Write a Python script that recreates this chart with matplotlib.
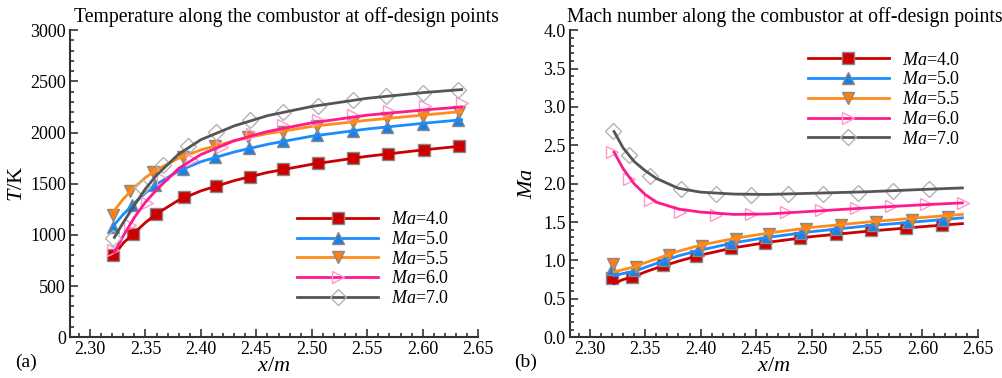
import numpy as np
import matplotlib
matplotlib.use("Agg")
import matplotlib.pyplot as plt
from matplotlib.ticker import MultipleLocator

plt.rcParams['font.family'] = ['Liberation Serif', 'DejaVu Serif']
plt.rcParams['mathtext.fontset'] = 'custom'
plt.rcParams['mathtext.rm'] = 'Liberation Serif'
plt.rcParams['mathtext.it'] = 'Liberation Serif:italic'

labels = ['$Ma$=4.0', '$Ma$=5.0', '$Ma$=5.5', '$Ma$=6.0', '$Ma$=7.0']

# ---- (a) temperature: smooth curves read at fixed x
x_line_a = [2.322, 2.33, 2.34, 2.35, 2.36, 2.38, 2.40, 2.43, 2.46, 2.50, 2.55, 2.60, 2.635]
T_line_4 = [805, 920, 1020, 1120, 1205, 1340, 1430, 1530, 1610, 1690, 1768, 1830, 1868]
T_line_5 = [1100, 1200, 1310, 1410, 1495, 1625, 1715, 1810, 1885, 1965, 2035, 2090, 2125]
T_line_55 = [1240, 1350, 1465, 1560, 1635, 1750, 1830, 1920, 1990, 2060, 2120, 2170, 2205]
T_line_6 = [830, 990, 1170, 1320, 1440, 1650, 1785, 1920, 2010, 2095, 2170, 2220, 2250]
T_line_7 = [975, 1120, 1290, 1450, 1583, 1790, 1930, 2065, 2165, 2255, 2335, 2390, 2420]

# (a) marker positions
xm_a4 = [2.321, 2.3385, 2.3595, 2.385, 2.414, 2.444, 2.474, 2.506, 2.537, 2.569, 2.601, 2.633]
Tm_a4 = [800, 1008, 1205, 1366, 1480, 1570, 1640, 1698, 1747, 1793, 1833, 1866]
xm_a5 = [2.321, 2.3376, 2.3586, 2.384, 2.4127, 2.4433, 2.4737, 2.505, 2.537, 2.568, 2.600, 2.632]
Tm_a5 = [1075, 1290, 1485, 1642, 1762, 1845, 1920, 1974, 2012, 2055, 2083, 2118]
xm_a55 = [2.321, 2.336, 2.357, 2.3836, 2.4127, 2.4427, 2.4737, 2.505, 2.537, 2.568, 2.600, 2.633]
Tm_a55 = [1195, 1427, 1616, 1762, 1866, 1957, 2010, 2065, 2105, 2140, 2165, 2205]
xm_a6 = [2.321, 2.336, 2.351, 2.366, 2.392, 2.419, 2.446, 2.474, 2.506, 2.537, 2.57, 2.602, 2.635]
Tm_a6 = [850, 1100, 1310, 1550, 1730, 1860, 1990, 2072, 2125, 2176, 2212, 2255, 2284]
xm_a7 = [2.321, 2.347, 2.366, 2.3886, 2.414, 2.444, 2.474, 2.506, 2.537, 2.567, 2.600, 2.632]
Tm_a7 = [970, 1470, 1680, 1865, 2006, 2121, 2202, 2257, 2316, 2355, 2387, 2420]

# ---- (b) Mach number
x_line_b = [2.322, 2.33, 2.34, 2.35, 2.36, 2.38, 2.40, 2.43, 2.46, 2.50, 2.55, 2.60, 2.636]
M_line_4 = [0.70, 0.75, 0.79, 0.85, 0.90, 0.99, 1.07, 1.165, 1.235, 1.31, 1.38, 1.44, 1.48]
M_line_5 = [0.80, 0.83, 0.855, 0.91, 0.96, 1.06, 1.135, 1.23, 1.30, 1.375, 1.45, 1.51, 1.555]
M_line_55 = [0.85, 0.88, 0.915, 0.97, 1.02, 1.12, 1.20, 1.285, 1.355, 1.43, 1.50, 1.56, 1.60]
M_line_6 = [2.41, 2.20, 2.00, 1.86, 1.76, 1.67, 1.63, 1.60, 1.605, 1.64, 1.685, 1.725, 1.75]
M_line_7 = [2.68, 2.47, 2.29, 2.17, 2.07, 1.94, 1.89, 1.865, 1.86, 1.875, 1.895, 1.925, 1.945]

xm_b4 = [2.3205, 2.3385, 2.366, 2.3962, 2.4271, 2.4578, 2.4893, 2.522, 2.5533, 2.5854, 2.618]
Mm_b4 = [0.765, 0.786, 0.938, 1.055, 1.164, 1.221, 1.286, 1.351, 1.394, 1.429, 1.468]
xm_b5 = [2.3204, 2.34, 2.367, 2.3976, 2.4277, 2.4593, 2.4908, 2.522, 2.5554, 2.587, 2.6185]
Mm_b5 = [0.882, 0.873, 1.003, 1.134, 1.229, 1.307, 1.359, 1.416, 1.459, 1.503, 1.525]
xm_b55 = [2.321, 2.342, 2.3715, 2.4016, 2.432, 2.462, 2.4953, 2.527, 2.5584, 2.591, 2.623]
Mm_b55 = [0.96, 0.916, 1.068, 1.19, 1.273, 1.351, 1.416, 1.459, 1.503, 1.533, 1.567]
xm_b6 = [2.3204, 2.3355, 2.354, 2.381, 2.4136, 2.4458, 2.4767, 2.5088, 2.540, 2.572, 2.6035, 2.6365]
Mm_b6 = [2.415, 2.067, 1.785, 1.633, 1.590, 1.603, 1.633, 1.655, 1.685, 1.711, 1.741, 1.75]
xm_b7 = [2.321, 2.3355, 2.354, 2.3826, 2.414, 2.4458, 2.4787, 2.510, 2.542, 2.573, 2.606]
Mm_b7 = [2.69, 2.38, 2.10, 1.93, 1.863, 1.85, 1.872, 1.872, 1.885, 1.906, 1.928]

# styles: line colour, marker, face, edge, size
styles = [
    ('#cc0000', 's', '#cc0000', '#888888', 8),
    ('#1a8cff', '^', '#1a7fe6', '#888888', 9),
    ('#ff8c1a', 'v', '#ff7f0e', '#888888', 9),
    ('#ff1a8c', '>', 'none', '#ff99cc', 9),
    ('#555555', 'D', 'none', '#b3b3b3', 8),
]


def draw(ax, xl, lines, marks):
    for (c, m, fc, ec, ms), yl, (xm, ym), lab in zip(styles, lines, marks, labels):
        ax.plot(xm, ym, ls='none', marker=m, mfc=fc, mec=ec, ms=ms, mew=1.0)
        ax.plot(xl, yl, color=c, lw=2)
        # legend proxy
        ax.plot([], [], color=c, lw=2, marker=m, mfc=fc, mec=ec, ms=ms,
                mew=1.0, label=lab)


def style_axes(ax):
    for s in ['top', 'right']:
        ax.spines[s].set_visible(False)
    for s in ['left', 'bottom']:
        ax.spines[s].set_linewidth(1.5)
        ax.spines[s].set_color('#333333')
    ax.set_xlim(2.282, 2.65)
    ax.xaxis.set_major_locator(MultipleLocator(0.05))
    ax.xaxis.set_minor_locator(MultipleLocator(0.01))
    ax.xaxis.set_major_formatter(matplotlib.ticker.FormatStrFormatter('%.2f'))
    ax.tick_params(which='both', direction='in', labelsize=13, width=1.2,
                   color='#333333', pad=3)
    ax.tick_params(which='major', length=6)
    ax.tick_params(which='minor', length=3)


fig = plt.figure(figsize=(10.03, 3.78), dpi=100)
ax1 = fig.add_axes([0.0698, 0.108, 0.407, 0.812])
ax2 = fig.add_axes([0.568, 0.108, 0.407, 0.812])

draw(ax1, x_line_a, [T_line_4, T_line_5, T_line_55, T_line_6, T_line_7],
     [(xm_a4, Tm_a4), (xm_a5, Tm_a5), (xm_a55, Tm_a55), (xm_a6, Tm_a6), (xm_a7, Tm_a7)])
draw(ax2, x_line_b, [M_line_4, M_line_5, M_line_55, M_line_6, M_line_7],
     [(xm_b4, Mm_b4), (xm_b5, Mm_b5), (xm_b55, Mm_b55), (xm_b6, Mm_b6), (xm_b7, Mm_b7)])

style_axes(ax1)
ax1.set_ylim(0, 3000)
ax1.yaxis.set_major_locator(MultipleLocator(500))
ax1.yaxis.set_minor_locator(MultipleLocator(100))
ax1.set_ylabel('$T$/K', fontsize=16, labelpad=2)
ax1.set_xlabel('$x$/$m$', fontsize=16, labelpad=-1)
ax1.set_title('Temperature along the combustor at off-design points',
              fontsize=14.2, pad=6, x=0.53)

style_axes(ax2)
ax2.set_ylim(0, 4.0)
ax2.yaxis.set_major_locator(MultipleLocator(0.5))
ax2.yaxis.set_minor_locator(MultipleLocator(0.1))
ax2.yaxis.set_major_formatter(matplotlib.ticker.FormatStrFormatter('%.1f'))
ax2.set_ylabel('$Ma$', fontsize=16, labelpad=4)
ax2.set_xlabel('$x$/$m$', fontsize=16, labelpad=-1)
ax2.set_title('Mach number along the combustor at off-design points',
              fontsize=14.2, pad=6, x=0.527)

leg_kw = dict(frameon=False, fontsize=13, handlelength=4.5, handletextpad=0.7,
              labelspacing=0.15, borderpad=0, borderaxespad=0, loc='upper left')
ax1.legend(bbox_to_anchor=(0.556, 0.41), **leg_kw)
ax2.legend(bbox_to_anchor=(0.583, 0.93), **leg_kw)

fig.text(0.015, 0.03, '(a)', fontsize=14)
fig.text(0.513, 0.03, '(b)', fontsize=14)

fig.savefig('out.png', dpi=100)
